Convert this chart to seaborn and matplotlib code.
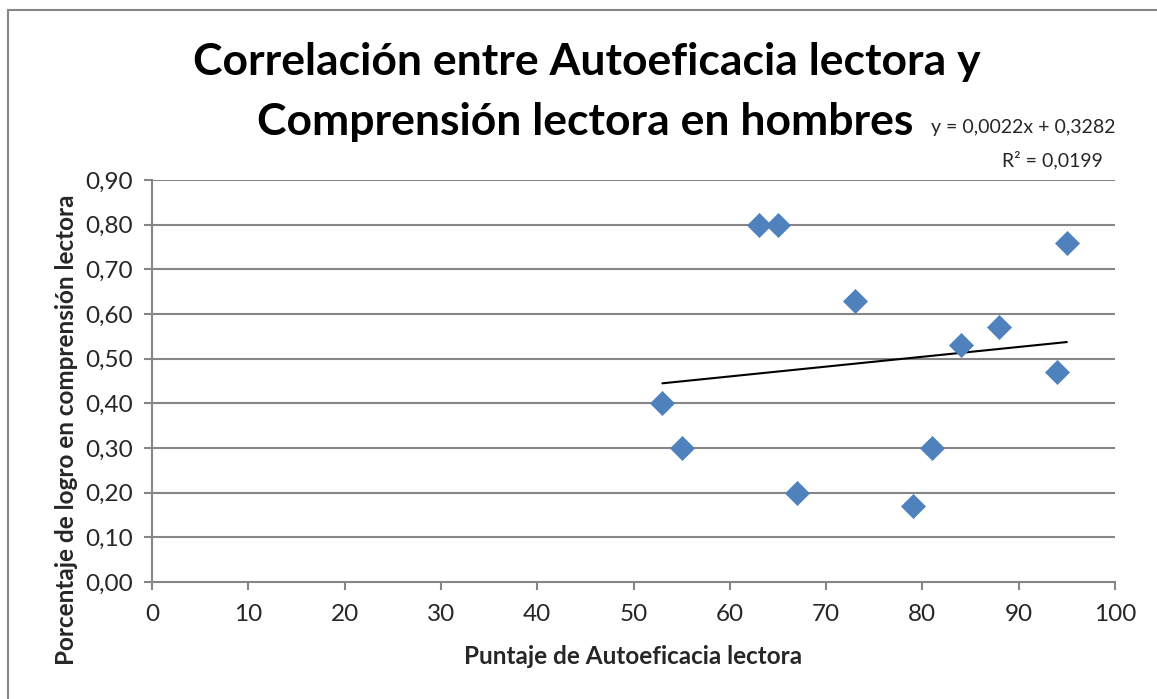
import numpy as np
import pandas as pd
import matplotlib
matplotlib.use("Agg")
import matplotlib.pyplot as plt
import seaborn as sns
from matplotlib.patches import Rectangle
from matplotlib.ticker import FuncFormatter

# Puntaje de autoeficacia vs porcentaje de logro
autoeficacia = [53, 55, 63, 65, 67, 73, 79, 81, 84, 88, 94, 95]
logro = [0.40, 0.30, 0.80, 0.80, 0.20, 0.63, 0.17, 0.30, 0.53, 0.57, 0.47, 0.76]
pendiente = 0.0022
intercepto = 0.3282
r2 = 0.0199

df = pd.DataFrame({"x": autoeficacia, "y": logro})

sns.set_style("white")
plt.rcParams['font.family'] = ['Lato', 'DejaVu Sans']

fig = plt.figure(figsize=(11.57, 6.99), dpi=100)
ax = fig.add_axes([0.1314, 0.1674, 0.8323, 0.5751])

grid_col = "#868686"
for yv in np.arange(0.1, 0.91, 0.1):
    ax.axhline(yv, color=grid_col, lw=1.5, zorder=0)

sns.scatterplot(data=df, x="x", y="y", marker="D", s=150, color="#4F81BD",
                edgecolor="#4F81BD", linewidth=0.5, ax=ax, zorder=3)

# linea de tendencia
xs = np.array([min(autoeficacia), max(autoeficacia)])
ax.plot(xs, pendiente * xs + intercepto, color="black", lw=1.5, zorder=2)

ax.set_xlim(0, 100)
ax.set_ylim(0, 0.9)
ax.set_xticks(range(0, 101, 10))
ax.set_yticks(np.arange(0, 0.91, 0.1))
ax.yaxis.set_major_formatter(FuncFormatter(lambda v, p: f"{v:.2f}".replace(".", ",")))
ax.tick_params(axis="both", direction="out", length=6, width=1.5, color=grid_col,
               labelsize=17.5, left=True, bottom=True)
ax.tick_params(axis="y", pad=8)
ax.tick_params(axis="x", pad=10)
for side in ["top", "right"]:
    ax.spines[side].set_visible(False)
for side in ["left", "bottom"]:
    ax.spines[side].set_color(grid_col)
    ax.spines[side].set_linewidth(1.5)

ax.set_xlabel("Puntaje de Autoeficacia lectora", fontsize=17.5, fontweight="bold", labelpad=14)
ax.set_ylabel("Porcentaje de logro en comprensión lectora", fontsize=17.5,
              fontweight="bold")
ax.yaxis.set_label_coords(-0.077, 0.378)

fig.text(0.507, 0.911, "Correlación entre Autoeficacia lectora y", ha="center",
         va="center", fontsize=32, fontweight="bold", color="black")
fig.text(0.506, 0.826, "Comprensión lectora en hombres", ha="center",
         va="center", fontsize=32, fontweight="bold", color="black")

fig.text(0.964, 0.818, "y = 0,0022x + 0,3282", ha="right", va="center", fontsize=14)
fig.text(0.953, 0.771, f"R² = {r2:.4f}".replace(".", ","), ha="right", va="center",
         fontsize=14)

fig.patches.append(Rectangle((0.007, -0.01), 1.1, 0.996, transform=fig.transFigure,
                             fill=False, edgecolor=grid_col, lw=1.5))

fig.savefig("out.png", dpi=100)
